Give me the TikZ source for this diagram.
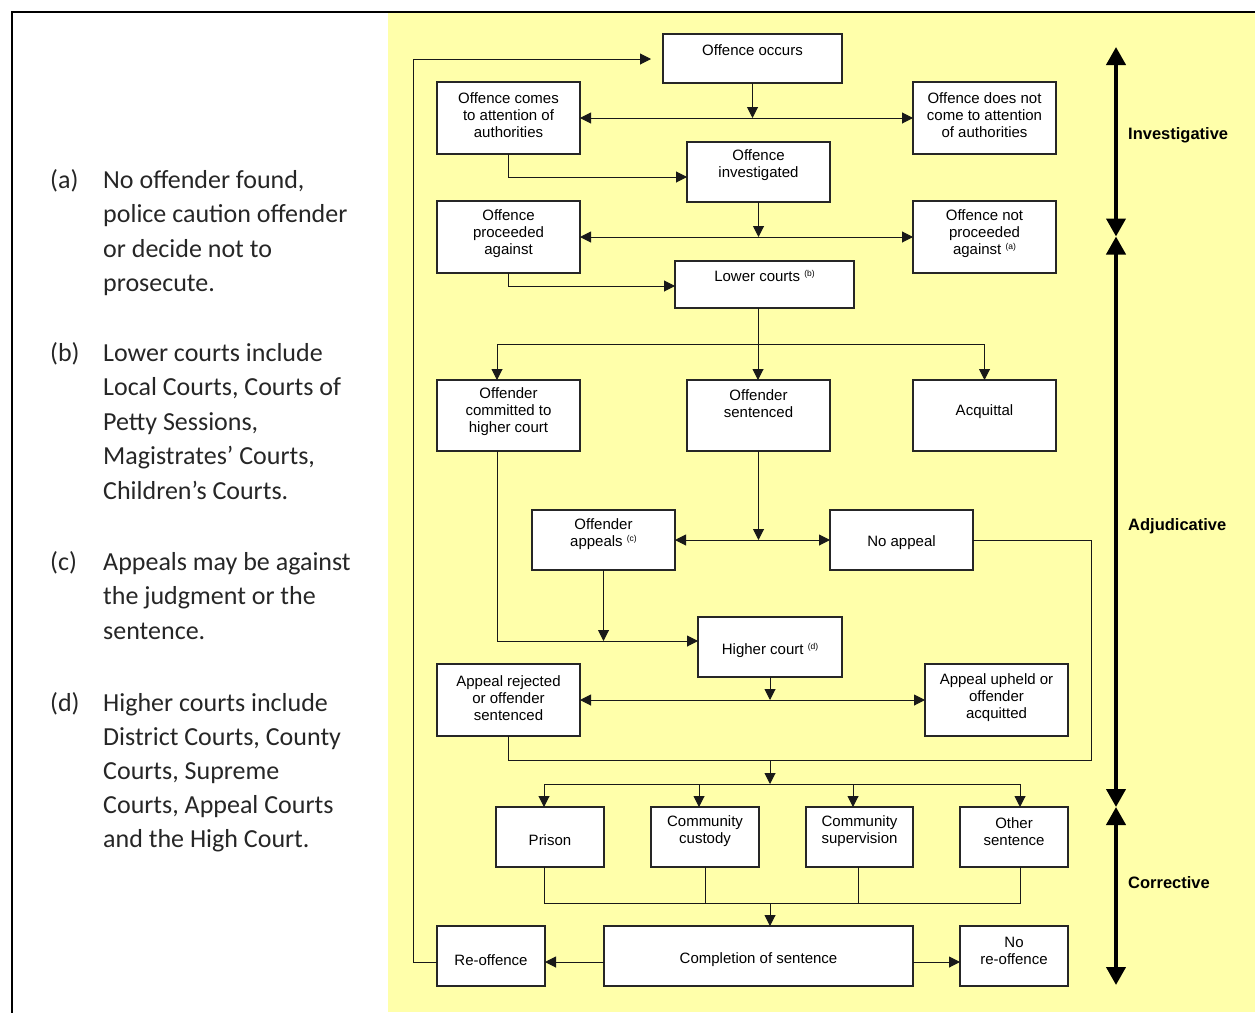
\documentclass[tikz,border=0pt]{standalone}
\usepackage{fontspec}
\setmainfont{Liberation Sans}
\newfontfamily\notefont{Carlito}
\usetikzlibrary{arrows.meta}
\definecolor{bgyellow}{RGB}{255,255,170}
\newcommand\supnote[1]{\ \raisebox{5pt}{\fontsize{8.5}{9}\selectfont(#1)}}
\newcommand\flowbox[7]{%
  \node[boxst, minimum width={(#4)-(#2)}, minimum height={(#5)-(#3)}] (#1) at ({((#2)+(#4))/2},{((#3)+(#5))/2}) {};
  \node[txtst] (#1-t) at ({((#2)+(#4))/2},#6) {#7};}
\begin{document}
\begin{tikzpicture}[x=1pt,y=-1pt,
  boxst/.style={draw=black!85, line width=1.1pt, fill=white, inner sep=0pt, outer sep=0pt},
  txtst/.style={align=center, inner sep=0pt, font=\fontsize{15}{17}\selectfont},
  conn/.style={line width=1pt, draw=black!90},
  arr/.style={conn, -{Triangle[length=11pt,width=11pt]}},
  arrboth/.style={conn, {Triangle[length=11pt,width=11pt]}-{Triangle[length=11pt,width=11pt]}},
  bigarr/.style={line width=4pt, {Triangle[length=18pt,width=19pt]}-{Triangle[length=18pt,width=19pt]}},
  phase/.style={anchor=west, inner sep=0pt, font=\bfseries\fontsize{16.5}{19}\selectfont},
  note/.style={anchor=base west, inner sep=0pt, font=\notefont\fontsize{26}{34}\selectfont, text=black!85}
]
\useasboundingbox (0,0) rectangle (1255,1012);
\fill[bgyellow] (388,13) rectangle (1255,1012);
\draw[line width=2.2pt] (12,1014) -- (12,12) -- (1257,12);

% notes
\node[note] (na0) at (50,188) {(a)};
\node[note] (na1) at (103,188) {No offender found,};
\node[note] (na2) at (103,222.5) {police caution offender};
\node[note] (na3) at (103,257) {or decide not to};
\node[note] (na4) at (103,291.5) {prosecute.};
\node[note] (nb0) at (50,361) {(b)};
\node[note] (nb1) at (103,361) {Lower courts include};
\node[note] (nb2) at (103,395.5) {Local Courts, Courts of};
\node[note] (nb3) at (103,430) {Petty Sessions,};
\node[note] (nb4) at (103,464.5) {Magistrates’ Courts,};
\node[note] (nb5) at (103,499) {Children’s Courts.};
\node[note] (nc0) at (50,570) {(c)};
\node[note] (nc1) at (103,570) {Appeals may be against};
\node[note] (nc2) at (103,604.5) {the judgment or the};
\node[note] (nc3) at (103,639) {sentence.};
\node[note] (nd0) at (50,711) {(d)};
\node[note] (nd1) at (103,711) {Higher courts include};
\node[note] (nd2) at (103,745) {District Courts, County};
\node[note] (nd3) at (103,779) {Courts, Supreme};
\node[note] (nd4) at (103,813) {Courts, Appeal Courts};
\node[note] (nd5) at (103,847) {and the High Court.};

% boxes
\flowbox{occurs}{663}{34}{842}{83}{50}{Offence occurs}
\flowbox{comes}{437}{82}{580}{154}{115}{Offence comes\\to attention of\\authorities}
\flowbox{doesnot}{913}{82}{1056}{154}{115}{Offence does not\\come to attention\\of authorities}
\flowbox{invest}{687}{142}{830}{202}{165.5}{Offence\\investigated}
\flowbox{proc}{437}{201}{580}{273}{234}{Offence\\proceeded\\against}
\flowbox{notproc}{913}{201}{1056}{273}{234}{Offence not\\proceeded\\against\supnote{a}}
\flowbox{lower}{675}{261}{854}{308}{276}{Lower courts\supnote{b}}
\flowbox{committed}{437}{380}{580}{451}{412}{Offender\\committed to\\higher court}
\flowbox{sentenced}{687}{380}{830}{451}{403.5}{Offender\\sentenced}
\flowbox{acquittal}{913}{380}{1056}{451}{412}{Acquittal}
\flowbox{appeals}{532}{510}{675}{570}{534.5}{Offender\\appeals\supnote{c}}
\flowbox{noappeal}{830}{510}{973}{570}{543}{No appeal}
\flowbox{higher}{698}{617}{842}{677}{650}{Higher court\supnote{d}}
\flowbox{rejected}{437}{664}{580}{736}{698}{Appeal rejected\\or offender\\sentenced}
\flowbox{upheld}{925}{664}{1068}{736}{698}{Appeal upheld or\\offender\\acquitted}
\flowbox{prison}{496}{807}{604}{867}{840}{Prison}
\flowbox{custody}{651}{807}{759}{867}{831.5}{Community\\custody}
\flowbox{superv}{806}{807}{913}{867}{831.5}{Community\\supervision}
\flowbox{other}{960}{807}{1068}{867}{831.5}{Other\\sentence}
\flowbox{reoff}{437}{926}{545}{986}{960}{Re-offence}
\flowbox{completion}{604}{926}{913}{986}{960}{Completion of sentence}
\flowbox{noreoff}{960}{926}{1068}{986}{951}{No\\re-offence}

% connectors
\draw[arr] (occurs.south) -- (occurs.south |- comes.east);
\draw[arrboth] (comes.east) -- (doesnot.west);
\draw[arr] (comes.south) |- ([yshift=-5pt]invest.west);
\draw[arr] (invest.south) -- (invest.south |- proc.east);
\draw[arrboth] (proc.east) -- (notproc.west);
\draw[arr] (proc.south) |- ([yshift=-1.5pt]lower.west);
\coordinate (j3) at (758,344);
\coordinate (j3L) at (497,344);
\coordinate (j3R) at (984.5,344);
\draw[conn] (lower.south -| j3) -- (j3);
\draw[conn] (j3L) -- (j3R);
\draw[arr] (j3L) -- (j3L |- committed.north);
\draw[arr] (j3) -- (j3 |- sentenced.north);
\draw[arr] (j3R) -- (acquittal.north);
\draw[arr] (sentenced.south) -- (sentenced.south |- appeals.east);
\draw[arrboth] (appeals.east) -- (noappeal.west);
\coordinate (hin) at ([yshift=6pt]higher.west);
\draw[arr] (committed.south -| j3L) |- (hin);
\draw[arr] (appeals.south) -- (appeals.south |- hin);
\draw[arr] (higher.south) -- (higher.south |- rejected.east);
\draw[arrboth] (rejected.east) -- (upheld.west);
\coordinate (k1) at (1091,760);
\coordinate (j6) at (770,760);
\coordinate (j7) at (770,784);
\draw[conn] (noappeal.east) -| (k1) -| (rejected.south);
\draw[arr] (j6) -- (j7);
\coordinate (s1) at (544,784);
\coordinate (s2) at (699,784);
\coordinate (s3) at (853,784);
\coordinate (s4) at (1020,784);
\draw[conn] (s1) -- (s4);
\draw[arr] (s1) -- (s1 |- prison.north);
\draw[arr] (s2) -- (s2 |- custody.north);
\draw[arr] (s3) -- (s3 |- superv.north);
\draw[arr] (s4) -- (s4 |- other.north);
\coordinate (b1) at (544,903);
\coordinate (b2) at (705,903);
\coordinate (b3) at (858,903);
\coordinate (b4) at (1020,903);
\coordinate (j8) at (770,903);
\draw[conn] (prison.south -| b1) -- (b1) -- (b4) -- (other.south -| b4);
\draw[conn] (custody.south -| b2) -- (b2);
\draw[conn] (superv.south -| b3) -- (b3);
\draw[arr] (j8) -- (j8 |- completion.north);
\draw[arr] ([yshift=-6pt]completion.west) -- ([yshift=-6pt]reoff.east);
\draw[arr] ([yshift=-6pt]completion.east) -- ([yshift=-6pt]noreoff.west);
\coordinate (k3) at (413,59);
\coordinate (back) at (651,59);
\draw[arr] ([yshift=-6pt]reoff.west) -| (k3) -- (back);

% phases
\coordinate (p0) at (1116,47);
\coordinate (p1) at (1116,236.5);
\coordinate (p2) at (1116,807);
\coordinate (p3) at (1116,985);
\draw[bigarr] (p0) -- (p1);
\draw[bigarr] (p1) -- (p2);
\draw[bigarr] (p2) -- (p3);
\node[phase] (lab1) at (1128,135) {Investigative};
\node[phase] (lab2) at (1128,526) {Adjudicative};
\node[phase] (lab3) at (1128,883) {Corrective};
\end{tikzpicture}
\end{document}
